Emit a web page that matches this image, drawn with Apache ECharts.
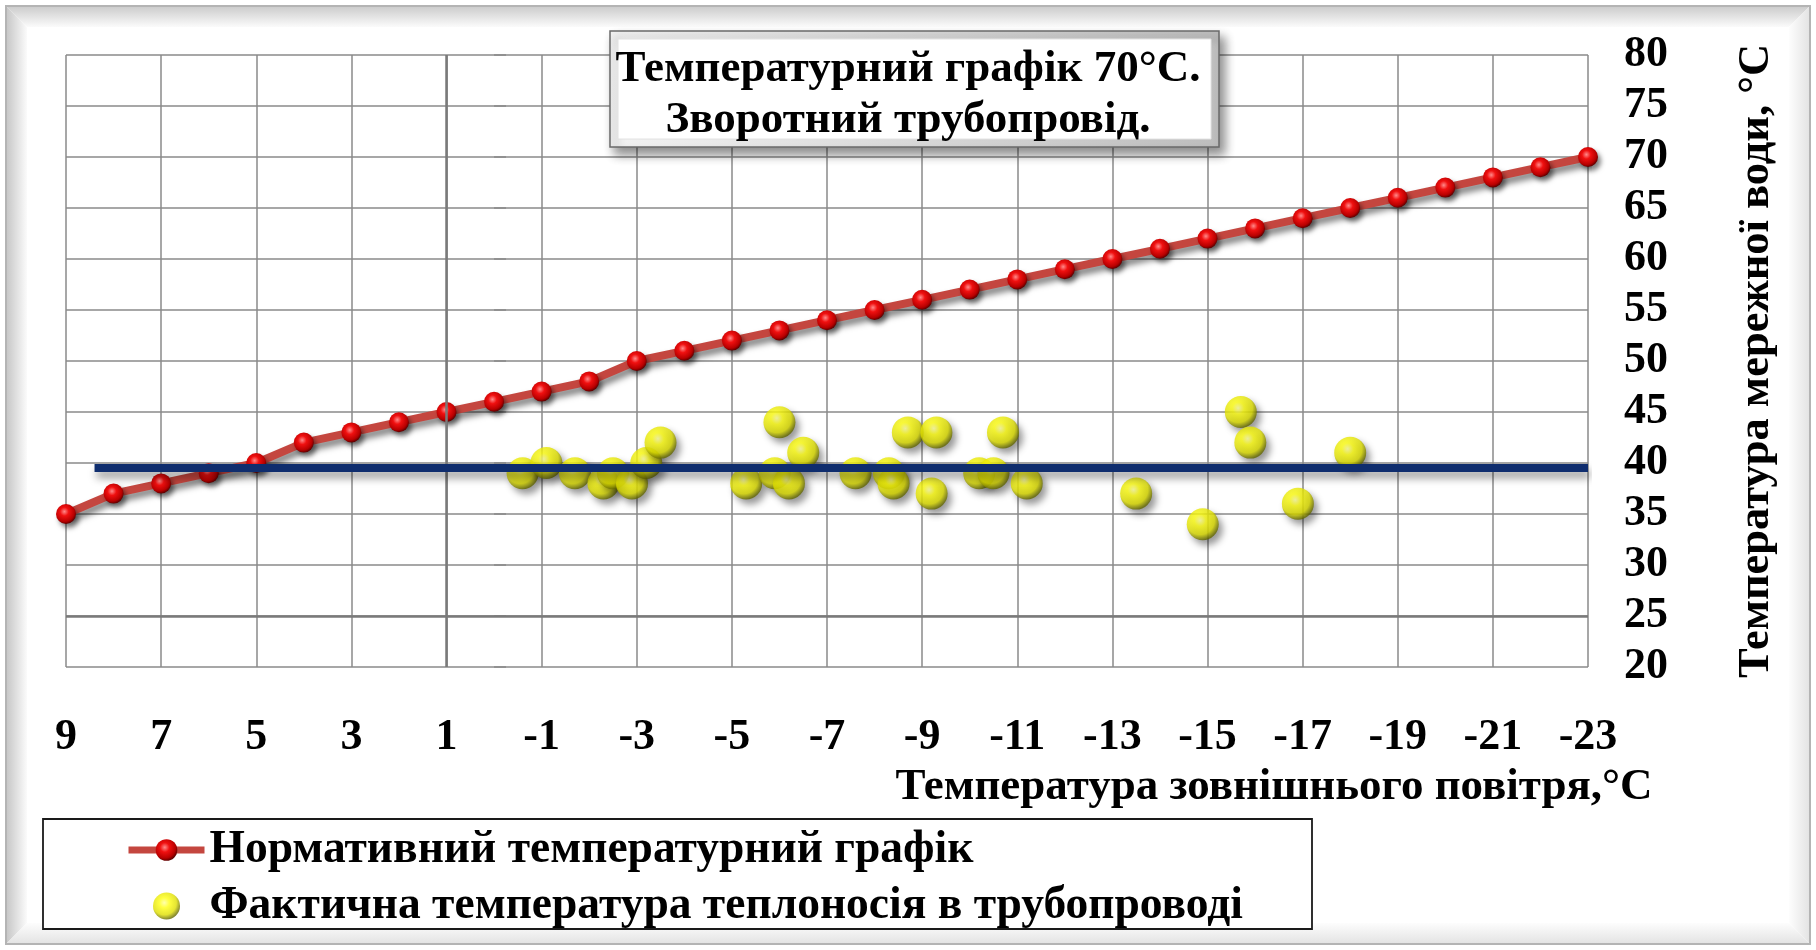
<!DOCTYPE html>
<html>
<head>
<meta charset="utf-8">
<script src="https://cdn.jsdelivr.net/npm/echarts@6/dist/echarts.min.js"></script>
<style>
  html, body { margin: 0; padding: 0; background: #ffffff; }
  #chart { width: 1816px; height: 950px; }
</style>
</head>
<body>
<div id="chart"></div>
<script>
// Outdoor air temperature axis (°C), drawn from warm (left) to cold (right)
const outdoorMin = -23;
const outdoorMax = 9;
const outdoorStep = 2;

// Network water temperature axis (°C)
const waterMin = 20;
const waterMax = 80;
const waterStep = 5;

// Normative return-pipe temperature schedule, one point per degree of outdoor air
const scheduleOutdoor = [9, 8, 7, 6, 5, 4, 3, 2, 1, 0, -1, -2, -3, -4, -5, -6, -7,
  -8, -9, -10, -11, -12, -13, -14, -15, -16, -17, -18, -19, -20, -21, -22, -23];
const scheduleWater = [35, 37, 38, 39, 40, 42, 43, 44, 45, 46, 47, 48, 50, 51, 52, 53, 54,
  55, 56, 57, 58, 59, 60, 61, 62, 63, 64, 65, 66, 67, 68, 69, 70];

// Measured coolant temperature in the return pipe
const measuredOutdoor = [-0.6, -1.1, -1.7, -2.3, -2.5, -2.9, -3.2, -3.5, -5.3, -6.0, -5.9, -6.2,
  -6.5, -7.6, -8.3, -8.4, -8.7, -9.3, -9.2, -10.2, -10.5, -10.7, -11.2, -13.5, -14.9, -15.7,
  -15.9, -16.9, -18.0];
const measuredWater = [39, 40, 39, 38, 39, 38, 40, 42, 38, 44, 39, 38,
  41, 39, 39, 38, 43, 43, 37, 39, 39, 43, 38, 37, 34, 45, 42,
  36, 41];

// Average measured level
const averageOutdoor = [8.4, -23];
const averageWater = [39.5, 39.5];

// Where the value axes cross each other
const crossOutdoor = 1;
const crossWater = 25;

const seriesNames = [
  'Нормативний температурний графік',
  'Фактична температура теплоносія в трубопроводі'
];
const chartTitle = 'Температурний графік 70°С.\nЗворотний трубопровід.';
const outdoorTitle = 'Температура зовнішнього повітря,°С';
const waterTitle = 'Температура мережної води, °С';

const zip = (xs, ys) => xs.map((x, i) => [x, ys[i]]);

const FONT = '"Liberation Serif", "Times New Roman", serif';
const G = echarts.graphic;

const redBall = new G.RadialGradient(0.42, 0.38, 0.62, [
  { offset: 0, color: '#ff8a8a' },
  { offset: 0.35, color: '#f01010' },
  { offset: 0.8, color: '#b80000' },
  { offset: 1, color: '#620000' }
]);
const yellowBall = new G.RadialGradient(0.42, 0.38, 0.62, [
  { offset: 0, color: '#ffff9a' },
  { offset: 0.3, color: '#ffff10' },
  { offset: 0.72, color: '#dede00' },
  { offset: 1, color: '#646800' }
]);

const chart = echarts.init(document.getElementById('chart'), null, { renderer: 'canvas' });

chart.setOption({
  backgroundColor: '#ffffff',
  animation: false,
  title: {
    text: chartTitle,
    left: 'center',
    top: 44,
    padding: [0, 0, 0, 14],
    z: 8,
    textStyle: {
      fontFamily: FONT,
      fontWeight: 'bold',
      fontSize: 45,
      lineHeight: 51,
      color: '#000000',
      align: 'center'
    }
  },
  legend: {
    orient: 'vertical',
    left: 125,
    top: 827,
    padding: 0,
    itemGap: 10,
    itemWidth: 76,
    itemHeight: 27,
    data: seriesNames,
    lineStyle: { width: 7 },
    textStyle: {
      fontFamily: FONT,
      fontWeight: 'bold',
      fontSize: 45.5,
      lineHeight: 42,
      color: '#000000'
    }
  },
  grid: {
    left: 66,
    right: 228,
    top: 55,
    bottom: 283,
    outerBoundsMode: 'none'
  },
  xAxis: {
    type: 'value',
    min: outdoorMin,
    max: outdoorMax,
    interval: outdoorStep,
    inverse: true,
    name: outdoorTitle,
    nameLocation: 'middle',
    nameGap: 91,
    nameTextStyle: {
      fontFamily: FONT,
      fontWeight: 'bold',
      fontSize: 45,
      color: '#000000',
      padding: [0, 0, 0, 894]
    },
    axisLine: { show: false },
    axisTick: { show: false },
    axisLabel: {
      margin: 49,
      fontFamily: FONT,
      fontWeight: 'bold',
      fontSize: 44,
      color: '#000000',
      showMinLabel: true,
      showMaxLabel: true
    },
    splitLine: { show: true, lineStyle: { color: '#8a8a8a', width: 1.5 } }
  },
  yAxis: {
    type: 'value',
    position: 'right',
    min: waterMin,
    max: waterMax,
    interval: waterStep,
    name: waterTitle,
    nameLocation: 'middle',
    nameRotate: 90,
    nameGap: 146,
    nameTextStyle: {
      fontFamily: FONT,
      fontWeight: 'bold',
      fontSize: 44.5,
      color: '#000000'
    },
    axisLine: { show: false },
    axisTick: { show: true, length: 12, lineStyle: { color: '#8a8a8a', width: 1.5 } },
    axisLabel: {
      margin: 36,
      fontFamily: FONT,
      fontWeight: 'bold',
      fontSize: 44,
      color: '#000000'
    },
    splitLine: { show: true, lineStyle: { color: '#8a8a8a', width: 1.5 } }
  },
  series: [
    {
      name: 'axes',
      type: 'line',
      data: [],
      silent: true,
      z: 1,
      markLine: {
        silent: true,
        symbol: 'none',
        label: { show: false },
        lineStyle: { color: '#7a7a7a', width: 2.5, type: 'solid' },
        data: [{ xAxis: crossOutdoor }, { yAxis: crossWater }]
      }
    },
    {
      name: seriesNames[1],
      type: 'scatter',
      data: zip(measuredOutdoor, measuredWater),
      symbol: 'circle',
      symbolSize: 32,
      z: 3,
      itemStyle: {
        color: yellowBall,
        shadowColor: 'rgba(0,0,0,0.5)',
        shadowBlur: 7,
        shadowOffsetX: 4,
        shadowOffsetY: 5
      }
    },
    {
      name: seriesNames[0],
      type: 'line',
      data: zip(scheduleOutdoor, scheduleWater),
      symbol: 'circle',
      symbolSize: 20,
      showSymbol: true,
      z: 4,
      lineStyle: {
        color: '#c4463f',
        width: 8,
        shadowColor: 'rgba(0,0,0,0.5)',
        shadowBlur: 6,
        shadowOffsetX: 3,
        shadowOffsetY: 5
      },
      itemStyle: {
        color: redBall,
        shadowColor: 'rgba(0,0,0,0.5)',
        shadowBlur: 5,
        shadowOffsetX: 3,
        shadowOffsetY: 4
      }
    },
    {
      name: 'Середнє значення',
      type: 'line',
      data: zip(averageOutdoor, averageWater),
      symbol: 'none',
      z: 5,
      lineStyle: {
        color: '#0f2d6e',
        width: 8,
        shadowColor: 'rgba(0,0,0,0.4)',
        shadowBlur: 8,
        shadowOffsetX: 2,
        shadowOffsetY: 6
      }
    }
  ],
  graphic: [
    // bevelled outer frame
    {
      type: 'polygon', z: 0, silent: true,
      shape: { points: [[7, 7], [1809, 7], [1789, 27], [27, 27]] },
      style: { fill: new G.LinearGradient(0, 0, 0, 1, [
        { offset: 0, color: '#cdcdcd' }, { offset: 1, color: '#fbfbfb' }]) }
    },
    {
      type: 'polygon', z: 0, silent: true,
      shape: { points: [[7, 7], [27, 27], [27, 923], [7, 943]] },
      style: { fill: new G.LinearGradient(0, 0, 1, 0, [
        { offset: 0, color: '#c8c8c8' }, { offset: 1, color: '#fbfbfb' }]) }
    },
    {
      type: 'polygon', z: 0, silent: true,
      shape: { points: [[1809, 7], [1809, 943], [1789, 923], [1789, 27]] },
      style: { fill: new G.LinearGradient(0, 0, 1, 0, [
        { offset: 0, color: '#fdfdfd' }, { offset: 1, color: '#e4e4e4' }]) }
    },
    {
      type: 'polygon', z: 0, silent: true,
      shape: { points: [[7, 943], [27, 923], [1789, 923], [1809, 943]] },
      style: { fill: new G.LinearGradient(0, 0, 0, 1, [
        { offset: 0, color: '#fdfdfd' }, { offset: 1, color: '#e4e4e4' }]) }
    },
    {
      type: 'rect', z: 0, silent: true,
      shape: { x: 6, y: 6, width: 1804, height: 938 },
      style: { fill: null, stroke: '#b4b4b4', lineWidth: 2 }
    },
    // title plate
    {
      type: 'rect', z: 6, silent: true,
      shape: { x: 610, y: 31, width: 609, height: 116 },
      style: {
        fill: new G.LinearGradient(0, 0, 1, 1, [
          { offset: 0, color: '#f4f4f4' }, { offset: 1, color: '#bdbdbd' }]),
        stroke: '#6a6a6a', lineWidth: 1.5,
        shadowColor: 'rgba(0,0,0,0.45)', shadowBlur: 10, shadowOffsetX: 5, shadowOffsetY: 7
      }
    },
    {
      type: 'rect', z: 6, silent: true,
      shape: { x: 618, y: 39, width: 593, height: 100 },
      style: { fill: '#ffffff', stroke: '#e2e2e2', lineWidth: 1 }
    },
    // legend frame
    {
      type: 'rect', z: 0, silent: true,
      shape: { x: 43, y: 819, width: 1269, height: 110 },
      style: { fill: '#ffffff', stroke: '#1a1a1a', lineWidth: 1.8 }
    }
  ]
});
</script>
</body>
</html>
